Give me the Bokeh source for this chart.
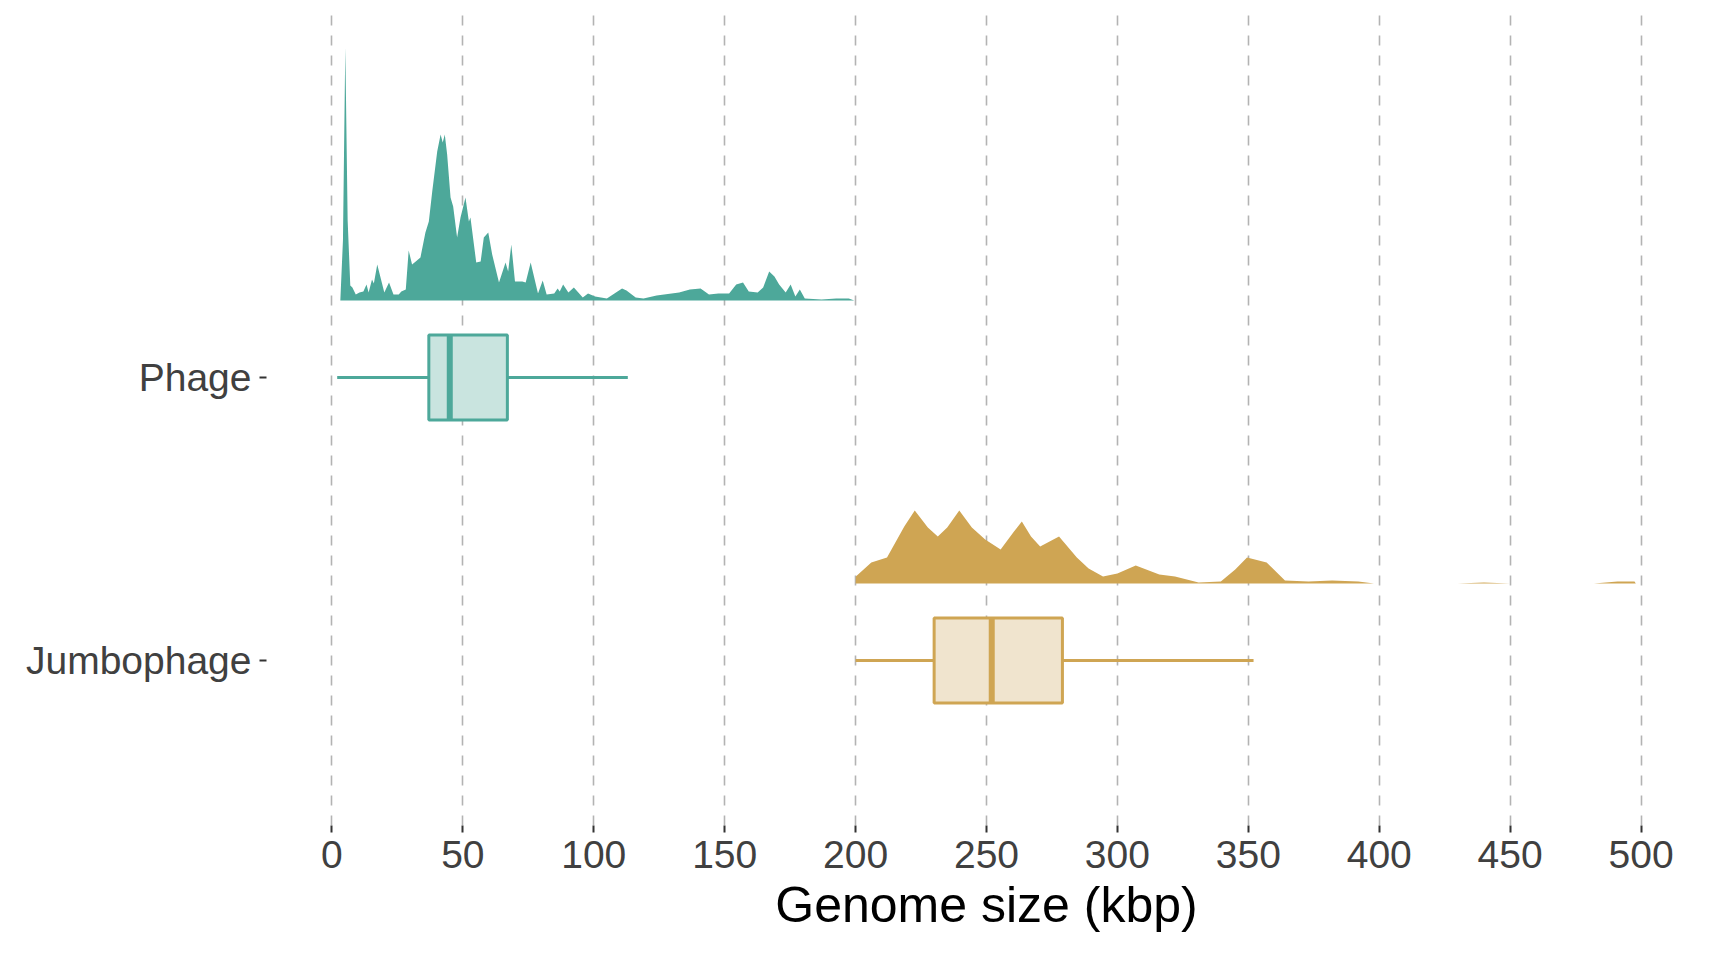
from bokeh.plotting import figure
from bokeh.models import FixedTicker, Range1d
from bokeh.embed import file_html
from bokeh.resources import INLINE

# density outlines: genome size (kbp) and height (px)
phage_x = [0, 3.2, 4.2, 5.1, 6, 7, 7.8, 9.1, 10.5, 12, 13.2, 14, 15.3, 16, 17.3, 20, 21.8, 23.5, 25.5,
           26.5, 28.2, 29.3, 30.6, 32, 33.8, 35.7, 37, 38.3, 40.2, 41.5, 42.3, 43.1, 44, 45.3, 46.3,
           47.8, 49.1, 51, 52.3, 52.9, 55.1, 56.8, 58, 59.7, 61.2, 63.8, 66.3, 67.3, 68.5, 69.9, 72.7,
           74, 75.9, 78.7, 80.5, 82, 84.9, 86.2, 87, 88.3, 90.3, 92.4, 95.8, 97.8, 100.5, 105, 110.8,
           112.5, 116, 119, 124, 132.6, 136.7, 140.8, 144, 147.6, 151.7, 154.4, 157, 159.2, 162.6,
           164.7, 167, 169, 170.8, 173.3, 175.2, 177, 178.7, 180.6, 187, 192.6, 197.4, 199.5]
phage_h = [0, 0, 60, 253, 80, 15, 13, 6, 8, 9, 16, 8, 21, 17, 36, 8, 18, 6, 6,
           9, 11, 50, 36, 39, 43, 68, 79, 109, 149, 166, 158, 166, 146, 103, 94,
           63, 83, 103, 79, 83, 38, 39, 63, 68, 46, 18, 38, 29, 56, 19, 19,
           18, 38, 7, 20, 6, 7, 12, 9, 16, 8, 13, 3, 7, 4, 2, 12,
           10, 3, 2, 5, 8, 11, 12, 6, 7, 7, 16, 18, 9, 8,
           13, 29, 24, 16, 8, 16, 4, 11, 2, 1, 2, 2, 0]

jumbo_x = [200, 200.1, 206, 212, 218.6, 222.6, 227.6, 231.4, 235, 239.6, 244.4, 249.5, 255.4, 260.5,
           263.5, 267, 270.5, 277.7, 284.5, 289, 294.5, 300, 307, 316, 322, 331, 339.5, 345, 349.5,
           357, 364, 373, 382, 392, 398, 430, 440, 450, 482, 491, 497.5, 498]
jumbo_h = [0, 7, 21, 26, 57, 73, 56, 47, 56, 73, 56, 44, 34, 52,
           62, 47, 37, 47, 26, 15, 7, 10, 18, 9, 7, 1, 2, 14, 26,
           21, 3, 2, 3, 2, 0, 0, 1, 0, 0, 2, 2, 0]

# box plot stats (kbp): lower whisker, q1, median, q3, upper whisker
phage_box = [2, 37, 45, 67, 113]
jumbo_box = [200, 230, 252, 279, 352]

groups = ["Jumbophage", "Phage"]
green, green_light = "#4da89a", "#c9e4df"
gold, gold_light = "#cfa553", "#f0e4ce"

PX = 283.0      # pixels per category unit
OFFSET = 0.272  # density baseline above box centre
HALF = 0.15     # half height of box

p = figure(width=1712, height=942, output_backend="svg", toolbar_location=None,
           x_range=Range1d(-25, 525), y_range=Range1d(0.417, 3.314),
           min_border_left=266, min_border_right=6, min_border_top=5)
p.frame_width = 1440
p.frame_height = 820
p.outline_line_color = None
p.background_fill_color = "white"

for yc, xs, hs, col in [(2, phage_x, phage_h, green), (1, jumbo_x, jumbo_h, gold)]:
    base = yc + OFFSET
    p.varea(x=xs, y1=[base] * len(xs), y2=[base + h / PX for h in hs], fill_color=col)

for yc, st, col, light in [(2, phage_box, green, green_light), (1, jumbo_box, gold, gold_light)]:
    lo, q1, med, q3, hi = st
    p.segment(x0=[lo, q3], y0=[yc, yc], x1=[q1, hi], y1=[yc, yc], line_color=col, line_width=3)
    p.quad(left=[q1], right=[q3], bottom=[yc - HALF], top=[yc + HALF],
           fill_color=light, line_color=col, line_width=3)
    p.segment(x0=[med], y0=[yc - HALF], x1=[med], y1=[yc + HALF], line_color=col, line_width=6)

p.ygrid.grid_line_color = None
p.xgrid.ticker = FixedTicker(ticks=list(range(0, 501, 50)))
p.xgrid.grid_line_color = "#b3b3b3"
p.xgrid.grid_line_width = 1.6
p.xgrid.grid_line_dash = "10 10"
p.xgrid.level = "underlay"

p.xaxis.ticker = FixedTicker(ticks=list(range(0, 501, 50)))
p.yaxis.ticker = FixedTicker(ticks=[1, 2])
p.yaxis.major_label_overrides = {1: groups[0], 2: groups[1]}
p.xaxis.axis_label = "Genome size (kbp)"

for ax in [p.xaxis, p.yaxis]:
    ax.axis_line_color = None
    ax.minor_tick_line_color = None
    ax.major_tick_in = 0
    ax.major_tick_out = 7
    ax.major_tick_line_color = "#333333"
    ax.major_tick_line_width = 2
    ax.major_label_text_font = "Liberation Sans"
    ax.major_label_text_font_size = "39px"
    ax.major_label_text_color = "#404040"
    ax.major_label_standoff = 8

p.xaxis.axis_label_text_font = "Liberation Sans"
p.xaxis.axis_label_text_font_size = "50px"
p.xaxis.axis_label_text_font_style = "normal"
p.xaxis.axis_label_text_color = "black"
p.xaxis.axis_label_standoff = 6

open("out.html", "w").write(file_html(p, INLINE))
